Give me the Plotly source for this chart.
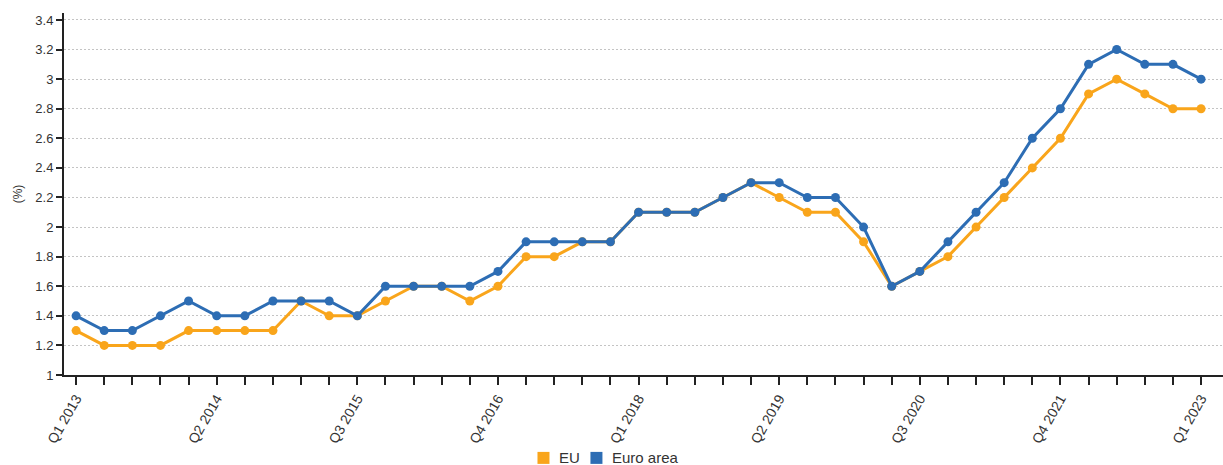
import plotly.graph_objects as go

# Quarterly periods, Q1 2013 .. Q1 2023
quarters = [f"Q{q} {y}" for y in range(2013, 2024) for q in range(1, 5)][:41]

eu = [1.3, 1.2, 1.2, 1.2, 1.3, 1.3, 1.3, 1.3, 1.5, 1.4,
      1.4, 1.5, 1.6, 1.6, 1.5, 1.6, 1.8, 1.8, 1.9, 1.9,
      2.1, 2.1, 2.1, 2.2, 2.3, 2.2, 2.1, 2.1, 1.9, 1.6,
      1.7, 1.8, 2.0, 2.2, 2.4, 2.6, 2.9, 3.0, 2.9, 2.8,
      2.8]

euro_area = [1.4, 1.3, 1.3, 1.4, 1.5, 1.4, 1.4, 1.5, 1.5, 1.5,
             1.4, 1.6, 1.6, 1.6, 1.6, 1.7, 1.9, 1.9, 1.9, 1.9,
             2.1, 2.1, 2.1, 2.2, 2.3, 2.3, 2.2, 2.2, 2.0, 1.6,
             1.7, 1.9, 2.1, 2.3, 2.6, 2.8, 3.1, 3.2, 3.1, 3.1,
             3.0]

y_ticks = [1, 1.2, 1.4, 1.6, 1.8, 2, 2.2, 2.4, 2.6, 2.8, 3, 3.2, 3.4]
y_tick_text = ["1", "1.2", "1.4", "1.6", "1.8", "2", "2.2", "2.4",
               "2.6", "2.8", "3", "3.2", "3.4"]

series_names = ["EU", "Euro area"]
ORANGE = "#F9A51B"
BLUE = "#2D6DB4"
colors = [ORANGE, BLUE]

idx = list(range(len(quarters)))
label_idx = idx[::5]

fig = go.Figure()

for name, values, color in zip(series_names, [eu, euro_area], colors):
    fig.add_trace(go.Scatter(
        x=idx, y=values, mode="lines+markers", name=name,
        line=dict(color=color, width=3),
        marker=dict(color=color, size=9),
        showlegend=False,
        hovertemplate="%{text}: %{y}<extra>" + name + "</extra>",
        text=quarters,
    ))

# Legend below the plot: square swatch + label per series
legend_y = -0.229
legend_swatch_x = [0.4137, 0.4594]
legend_text_x = [0.4253, 0.4711]
shapes = []
annotations = []
for name, color, sx, tx in zip(series_names, colors, legend_swatch_x, legend_text_x):
    shapes.append(dict(
        type="rect", xref="paper", yref="paper",
        xsizemode="pixel", ysizemode="pixel",
        xanchor=sx, yanchor=legend_y,
        x0=-6, x1=6, y0=-6, y1=6,
        fillcolor=color, line=dict(width=0),
    ))
    annotations.append(dict(
        xref="paper", yref="paper", x=tx, y=legend_y,
        xanchor="left", yanchor="middle", showarrow=False,
        text=name, font=dict(size=15, color="#333333"),
    ))

fig.update_layout(
    width=1223, height=465,
    margin=dict(l=64, r=0, t=13, b=90),
    paper_bgcolor="white", plot_bgcolor="white",
    font=dict(family="Liberation Sans, Arial, sans-serif", size=12, color="#333333"),
    showlegend=False,
    shapes=shapes,
    annotations=annotations,
    xaxis=dict(
        range=[-0.43, 40.78],
        automargin=False,
        tickmode="array",
        tickvals=idx,
        ticktext=[quarters[i] if i in label_idx else "" for i in idx],
        tickangle=-60,
        ticks="outside", ticklen=8, tickwidth=2, tickcolor="#222222",
        showline=True, linecolor="#222222", linewidth=2,
        showgrid=False, zeroline=False,
        tickfont=dict(size=14, color="#333333"),
    ),
    yaxis=dict(
        range=[1, 3.447],
        automargin=False,
        tickmode="array", tickvals=y_ticks, ticktext=y_tick_text,
        ticks="outside", ticklen=6, tickwidth=2, tickcolor="#222222",
        showline=True, linecolor="#222222", linewidth=2,
        showgrid=True, gridcolor="#c4c4c4", griddash="2px,2px", gridwidth=1,
        zeroline=False,
        title=dict(text="(%)", standoff=10, font=dict(size=12, color="#333333")),
        tickfont=dict(size=13, color="#333333"),
    ),
)

fig.write_html("out.html")
